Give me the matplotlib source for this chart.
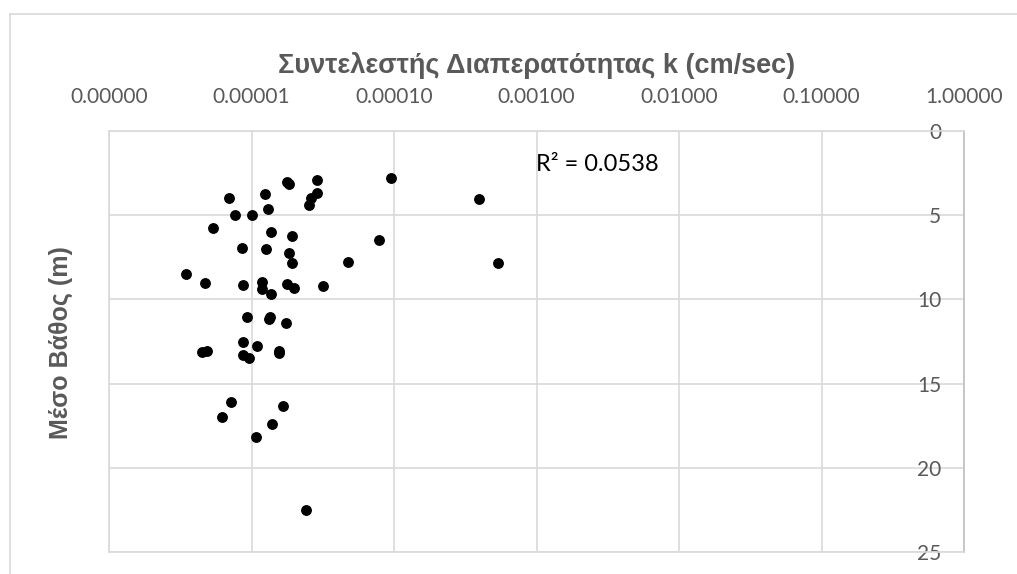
import matplotlib
matplotlib.use("Agg")
import matplotlib.pyplot as plt
from matplotlib.lines import Line2D
from matplotlib.ticker import FixedLocator, FuncFormatter

# permeability coefficient k (cm/sec) and mean depth (m) per sample
k_values = [
    9.5e-5, 1.77e-5, 1.83e-5, 2.9e-5, 2.87e-5, 2.6e-5, 2.54e-5, 1.24e-5,
    6.98e-6, 1.31e-5, 7.6e-6, 1.01e-5, 5.4e-6, 1.38e-5, 1.91e-5, 7.9e-5,
    8.57e-6, 1.26e-5, 1.84e-5, 1.92e-5, 4.73e-5, 3.45e-6, 4.74e-6, 8.77e-6,
    1.19e-5, 1.19e-5, 1.37e-5, 1.77e-5, 2.0e-5, 3.18e-5, 9.3e-6, 1.35e-5,
    1.33e-5, 1.75e-5, 3.97e-4, 5.4e-4, 8.77e-6, 1.1e-5, 4.52e-6, 4.9e-6,
    8.77e-6, 9.55e-6, 1.57e-5, 1.57e-5, 7.15e-6, 1.66e-5, 6.24e-6, 1.4e-5,
    1.08e-5, 2.43e-5,
]
depths = [
    2.79, 3.03, 3.13, 2.93, 3.68, 4.0, 4.41, 3.76,
    3.98, 4.61, 5.0, 5.0, 5.74, 6.01, 6.21, 6.49,
    6.94, 6.98, 7.22, 7.85, 7.79, 8.51, 9.04, 9.16,
    8.98, 9.40, 9.65, 9.10, 9.34, 9.20, 11.02, 11.02,
    11.16, 11.40, 4.02, 7.81, 12.52, 12.76, 13.12, 13.04,
    13.31, 13.47, 13.04, 13.19, 16.07, 16.32, 17.01, 17.37,
    18.18, 22.49,
]
x_ticks = [1e-6, 1e-5, 1e-4, 1e-3, 1e-2, 1e-1, 1.0]
y_ticks = [0, 5, 10, 15, 20, 25]
r_squared = 0.0538

title = "Συντελεστής Διαπερατότητας k (cm/sec)"
ylabel = "Μέσο Βάθος (m)"

W, H = 1017, 574
fig = plt.figure(figsize=(W / 100, H / 100), dpi=100)
ax = fig.add_axes([109 / W, 1 - 552 / H, (964 - 109) / W, (552 - 131) / H])

ax.plot(k_values, depths, "o", color="black", markersize=6.8, linestyle="none", zorder=3)

ax.set_xscale("log")
ax.set_xlim(x_ticks[0], x_ticks[-1])
ax.set_ylim(y_ticks[-1], y_ticks[0])

grid_col = "#d9d9d9"
tick_col = "#595959"

ax.xaxis.set_major_locator(FixedLocator(x_ticks))
ax.xaxis.set_minor_locator(FixedLocator([]))
ax.xaxis.set_major_formatter(FuncFormatter(lambda v, p: f"{v:.5f}"))
ax.yaxis.set_major_locator(FixedLocator(y_ticks))

ax.xaxis.tick_top()
ax.tick_params(axis="x", which="both", length=0, pad=17, labelsize=15, labelcolor=tick_col)
ax.yaxis.tick_right()
ax.tick_params(axis="y", which="both", length=0, pad=-16.5, labelsize=15, labelcolor=tick_col)
for lab in ax.get_xticklabels() + ax.get_yticklabels():
    lab.set_fontfamily("Lato")
for lab in ax.get_yticklabels():
    lab.set_horizontalalignment("right")

ax.grid(True, color=grid_col, linewidth=1.2)
ax.set_axisbelow(True)
for side in ["top", "bottom", "left"]:
    ax.spines[side].set_color(grid_col)
    ax.spines[side].set_linewidth(1.2)
ax.spines["right"].set_color("#bfbfbf")
ax.spines["right"].set_linewidth(1.2)

ax.text(1e-3, 2.0, f"R² = {r_squared:.4f}", fontsize=17, family="Lato",
        color="black", va="center", ha="left")

fig.text(536.5 / W, 1 - 66 / H, title, fontsize=19.5, fontweight="bold",
         family="Liberation Sans", color="#595959", ha="center", va="center")
fig.text(61 / W, 1 - 343 / H, ylabel, fontsize=18, fontweight="bold",
         family="Liberation Sans", color="#595959", ha="center", va="center", rotation=90)

# outer chart frame (only top and left edges fall inside the image)
fig.add_artist(Line2D([10 / W, 10 / W], [0, 1 - 14 / H], color=grid_col, linewidth=1.2))
fig.add_artist(Line2D([10 / W, 1], [1 - 14 / H, 1 - 14 / H], color=grid_col, linewidth=1.2))

fig.savefig("out.png", dpi=100)
